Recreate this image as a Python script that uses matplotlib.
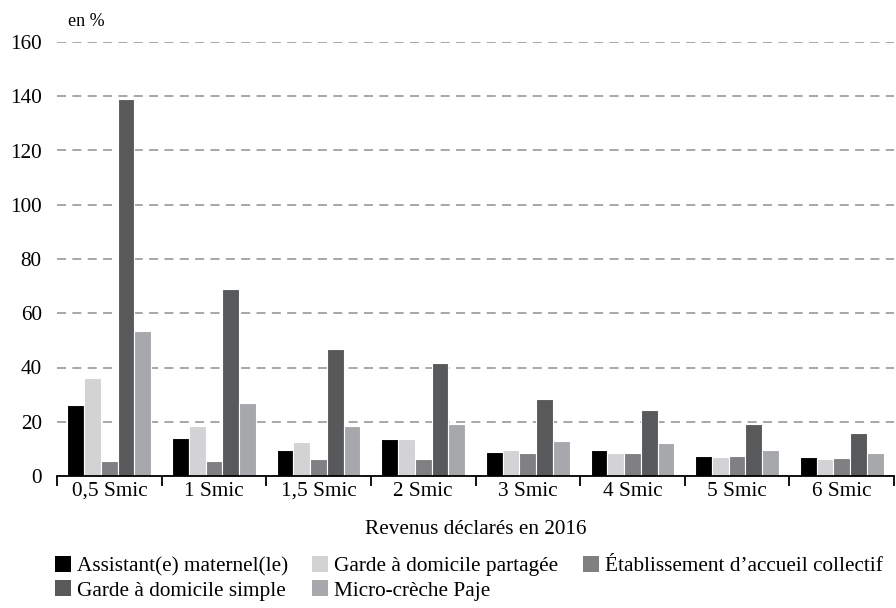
import numpy as np
import matplotlib.pyplot as plt
from matplotlib.patches import Patch

# Data
categories = ['0,5 Smic', '1 Smic', '1,5 Smic', '2 Smic', '3 Smic', '4 Smic', '5 Smic', '6 Smic']
assistant = [26, 14, 9.5, 13.5, 9, 9.5, 7.3, 7]
garde_partagee = [36, 18.5, 12.5, 13.5, 9.5, 8.5, 7, 6.3]
etablissement = [5.5, 5.5, 6.2, 6.2, 8.5, 8.5, 7.3, 6.6]
garde_simple = [139, 69, 47, 41.7, 28.5, 24.2, 19, 16]
micro_creche = [53.5, 27, 18.5, 19, 12.8, 12, 9.6, 8.5]

series = [
    ('Assistant(e) maternel(le)', assistant, '#000000'),
    ('Garde à domicile partagée', garde_partagee, '#d3d3d5'),
    ('Établissement d\u2019accueil collectif', etablissement, '#808083'),
    ('Garde à domicile simple', garde_simple, '#58595b'),
    ('Micro-crèche Paje', micro_creche, '#a7a8ab'),
]

plt.rcParams['font.family'] = ['Liberation Serif', 'DejaVu Serif']
fs = 15.3

fig = plt.figure(figsize=(8.96, 6.08), dpi=100)
ax = fig.add_axes([57/896, 1-476/608, (894-57)/896, (476-42)/608])

x = np.arange(len(categories))
w = 0.16
for j, (name, vals, col) in enumerate(series):
    ax.bar(x + (j-2)*w, vals, w, color=col, edgecolor='white', linewidth=0.8, zorder=3)

ax.set_xlim(-0.5, len(categories)-0.5)
ax.set_ylim(0, 160)
ax.set_yticks(np.arange(0, 161, 20))
ax.yaxis.grid(True, linestyle=(0, (5, 3.5)), color='#a0a0a0', linewidth=1.3, zorder=0)
ax.tick_params(axis='y', length=0, pad=11, labelsize=fs)

ax.set_xticks(x)
ax.set_xticklabels(categories)
ax.set_xticks(np.arange(-0.5, len(categories)), minor=True)
ax.tick_params(axis='x', which='major', length=0, pad=4, labelsize=fs)
ax.tick_params(axis='x', which='minor', length=7, width=1.3, color='black')

for s in ['top', 'right', 'left']:
    ax.spines[s].set_visible(False)
ax.spines['bottom'].set_linewidth(1.3)
ax.spines['bottom'].set_zorder(4)

fig.text(68/896, 1-21/608, 'en %', fontsize=13, va='center', ha='left')
fig.text((57+894)/2/896, 1-529/608, 'Revenus déclarés en 2016', fontsize=fs, ha='center', va='center')

handles = [Patch(facecolor=c, edgecolor='none', label=n) for n, v, c in series]
order = [0, 3, 1, 4, 2]
fig.legend([handles[i] for i in order], [handles[i].get_label() for i in order],
           loc='upper left', bbox_to_anchor=(55/896, 1-556/608), ncol=3, frameon=False,
           fontsize=fs, handlelength=0.75, handleheight=0.75, handletextpad=0.28,
           columnspacing=1.15, labelspacing=0.2, borderpad=0, borderaxespad=0)

fig.savefig('out.png', dpi=100)
